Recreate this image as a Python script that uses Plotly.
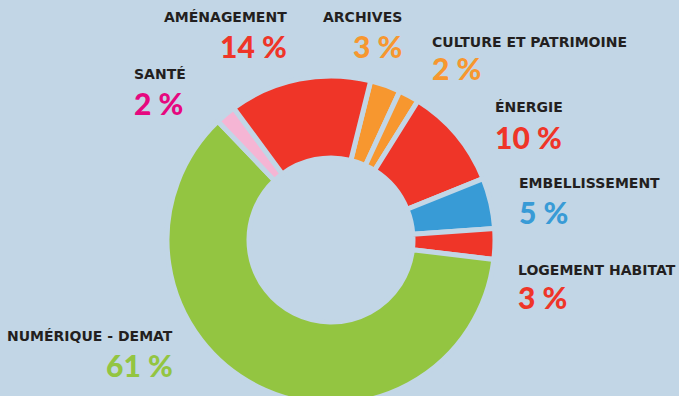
import plotly.graph_objects as go

# Budget share by theme, listed clockwise from the top of the ring
categories = ["ARCHIVES", "CULTURE ET PATRIMOINE", "ÉNERGIE", "EMBELLISSEMENT",
              "LOGEMENT HABITAT", "NUMÉRIQUE - DEMAT", "SANTÉ", "AMÉNAGEMENT"]
values = [3, 2, 10, 5, 3, 61, 2, 14]
slice_colors = ["#f7972f", "#f7972f", "#ef3528", "#389bd6",
                "#ef3528", "#93c541", "#f5b5d4", "#ef3528"]
value_colors = ["#f7972f", "#f7972f", "#ef3528", "#389bd6",
                "#ef3528", "#93c541", "#e6087f", "#ef3528"]

W, H = 679, 396
FIG_H = 404          # ring runs slightly past the lower edge of the page
BG = "#c2d6e6"

fig = go.Figure(go.Pie(
    labels=categories,
    values=values,
    sort=False,
    direction="clockwise",
    rotation=14,
    hole=0.5,
    marker=dict(colors=slice_colors, line=dict(color=BG, width=5)),
    textinfo="none",
    hoverinfo="label+percent",
    showlegend=False,
    domain=dict(x=[0, 662 / W], y=[0, 328 / FIG_H]),
))

# label placement: (left/right anchor, x px, title y px, value y px)
placement = {
    "AMÉNAGEMENT": ("right", 289, 17, 46),
    "ARCHIVES": ("right", 404, 17, 46),
    "CULTURE ET PATRIMOINE": ("left", 430, 42, 68),
    "ÉNERGIE": ("left", 493, 107, 137),
    "EMBELLISSEMENT": ("left", 517, 183, 212),
    "LOGEMENT HABITAT": ("left", 516, 270, 297),
    "SANTÉ": ("left", 132, 74, 103),
    "NUMÉRIQUE - DEMAT": ("right", 175, 336, 365),
}

def px(x):
    return x / W

def py(y):
    return 1 - y / FIG_H

for cat, val, col in zip(categories, values, value_colors):
    anchor, x, ty, vy = placement[cat]
    fig.add_annotation(x=px(x), y=py(ty), xref="paper", yref="paper",
                       text=cat, showarrow=False, xanchor=anchor, yanchor="middle",
                       font=dict(family="DejaVu Sans", size=14, color="#231f20", weight=700))
    fig.add_annotation(x=px(x), y=py(vy), xref="paper", yref="paper",
                       text=f"{val} %", showarrow=False, xanchor=anchor, yanchor="middle",
                       font=dict(family="Lato", size=30, color=col, weight=900))

fig.update_layout(
    width=W, height=FIG_H,
    margin=dict(l=0, r=0, t=0, b=0),
    paper_bgcolor=BG,
    plot_bgcolor=BG,
)

fig.write_html("out.html",
               post_script="document.documentElement.style.overflow='hidden';"
                           "document.body.style.overflow='hidden';")
